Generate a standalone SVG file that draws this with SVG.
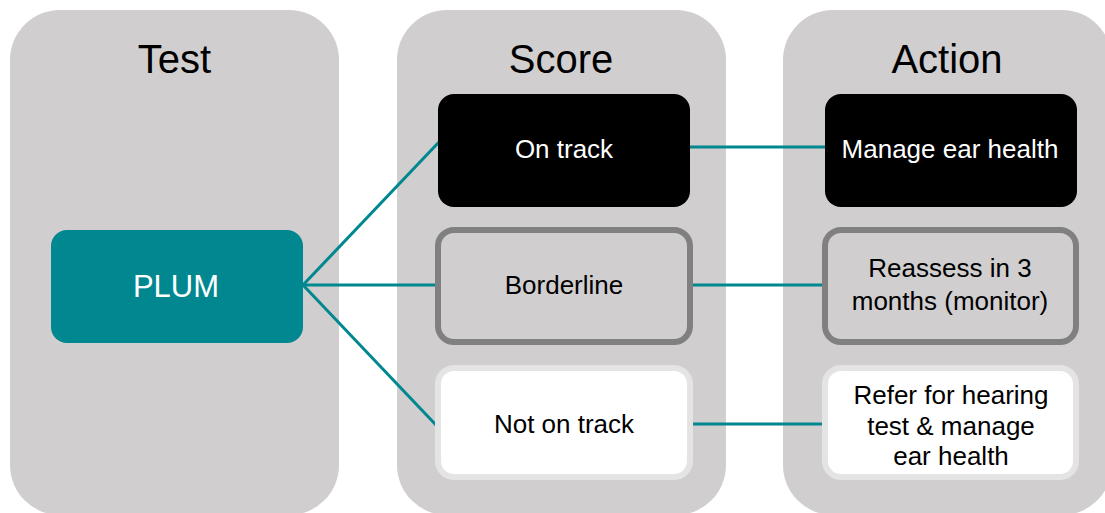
<svg xmlns="http://www.w3.org/2000/svg" width="1105" height="513" viewBox="0 0 1105 513">
<style>
.col{fill:#d0cecf}
.title{font-family:'Liberation Sans',sans-serif;font-size:40px;fill:#000;text-anchor:middle}
.lbl{font-family:'Liberation Sans',sans-serif;font-size:26px;text-anchor:middle}
.w{fill:#fff}
.k{fill:#000}
.conn{stroke:#00878f;stroke-width:3;fill:none}
.on{fill:#000}
.bord{fill:#d0cecf;stroke:#808080;stroke-width:6}
.not{fill:#fff;stroke:#e4e4e4;stroke-width:6}
</style>
<rect width="1105" height="513" fill="#fff"/>
<g id="columns">
<g id="col-test"><rect class="col" x="10" y="10" width="329" height="505" rx="50"/><text class="title" x="174.5" y="73">Test</text></g>
<g id="col-score"><rect class="col" x="397" y="10" width="329" height="505" rx="50"/><text class="title" x="561" y="73">Score</text></g>
<g id="col-action"><rect class="col" x="783" y="10" width="329" height="505" rx="50"/><text class="title" x="947" y="73">Action</text></g>
</g>
<g id="connectors">
<line class="conn" x1="303" y1="285" x2="439" y2="142"/>
<line class="conn" x1="303" y1="285" x2="436" y2="285"/>
<line class="conn" x1="303" y1="285" x2="436" y2="425"/>
<line class="conn" x1="690" y1="147" x2="825" y2="147"/>
<line class="conn" x1="693" y1="285" x2="822" y2="285"/>
<line class="conn" x1="693" y1="424" x2="822" y2="424"/>
</g>
<g id="plum"><rect x="51" y="230" width="252" height="113" rx="16" fill="#00878f"/><text class="lbl w" x="176" y="297" style="font-size:31px">PLUM</text></g>
<g id="on-track"><rect class="on" x="438" y="94" width="252" height="113" rx="16"/><text class="lbl w" x="564" y="158">On track</text></g>
<g id="borderline"><rect class="bord" x="438" y="230" width="252" height="112" rx="16"/><text class="lbl k" x="564" y="294">Borderline</text></g>
<g id="not-on-track"><rect class="not" x="438" y="368" width="252" height="109" rx="16"/><text class="lbl k" x="564" y="433">Not on track</text></g>
<g id="manage"><rect class="on" x="825" y="94" width="252" height="113" rx="16"/><text class="lbl w" x="950" y="158">Manage ear health</text></g>
<g id="reassess"><rect class="bord" x="825" y="230" width="251" height="112" rx="16"/><text class="lbl k" x="950" y="277">Reassess in 3</text><text class="lbl k" x="950" y="310">months (monitor)</text></g>
<g id="refer"><rect class="not" x="825" y="368" width="251" height="109" rx="16"/><text class="lbl k" x="951" y="404">Refer for hearing</text><text class="lbl k" x="951" y="434.5">test &amp; manage</text><text class="lbl k" x="951" y="465">ear health</text></g>
</svg>
